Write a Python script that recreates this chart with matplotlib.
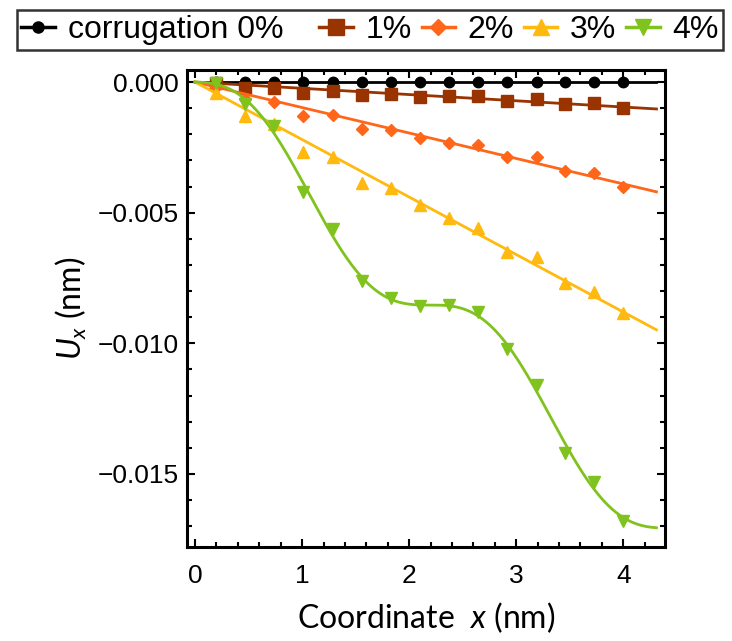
import numpy as np
import matplotlib
matplotlib.use("Agg")
import matplotlib.pyplot as plt

# positions of the sampled points along x (nm)
x_pts = [0.20, 0.47, 0.74, 1.01, 1.29, 1.56, 1.83, 2.10, 2.37, 2.64, 2.91, 3.19, 3.46, 3.73, 4.00]

# U_x (nm) for each corrugation level
u_0 = [0.0] * 15
u_1 = [-0.00002, -0.00022, -0.00022, -0.00040, -0.00034, -0.00051, -0.00047, -0.00057,
       -0.00055, -0.00054, -0.00071, -0.00064, -0.00085, -0.00081, -0.00099]
u_2 = [-0.00020, -0.00066, -0.00075, -0.00128, -0.00126, -0.00181, -0.00184, -0.00213,
       -0.00232, -0.00242, -0.00287, -0.00286, -0.00341, -0.00348, -0.00400]
u_3 = [-0.00041, -0.00130, -0.00162, -0.00267, -0.00286, -0.00385, -0.00407, -0.00472,
       -0.00522, -0.00560, -0.00650, -0.00668, -0.00770, -0.00803, -0.00885]
u_4 = [-0.00002, -0.00085, -0.00168, -0.00421, -0.00564, -0.00761, -0.00828, -0.00857,
       -0.00855, -0.00882, -0.01020, -0.01160, -0.01420, -0.01530, -0.01680]

labels = ["corrugation 0%   ", "1%", "2%", "3%", "4%"]
colors = ["black", "#993300", "#FF661A", "#FFB90F", "#80C21E"]
markers = ["o", "s", "D", "^", "v"]
msizes = [7.5, 8.5, 6, 8, 8]
leg_ms = [8, 11, 8, 11, 11]

plt.rcParams["mathtext.fontset"] = "custom"
plt.rcParams["mathtext.rm"] = "Lato"
plt.rcParams["mathtext.it"] = "Lato:italic"

x = np.array(x_pts)
xf = np.linspace(0, 4.31, 400)


def fit_line(y):
    # straight line through the origin
    y = np.array(y)
    m = np.sum(x * y) / np.sum(x * x)
    return m * xf


def fit_wave(y):
    # slope plus one periodic term, period chosen by least squares
    y = np.array(y)
    best = None
    for L in np.linspace(1.5, 3.0, 301):
        k = 2 * np.pi / L
        A = np.column_stack([x, np.sin(k * x), 1 - np.cos(k * x)])
        c, res, *_ = np.linalg.lstsq(A, y, rcond=None)
        r = np.sum((A @ c - y) ** 2)
        if best is None or r < best[0]:
            best = (r, L, c)
    _, L, c = best
    k = 2 * np.pi / L
    return c[0] * xf + c[1] * np.sin(k * xf) + c[2] * (1 - np.cos(k * xf))


series = [u_0, u_1, u_2, u_3, u_4]
fits = [fit_line(u_0), fit_line(u_1), fit_line(u_2), fit_line(u_3), fit_wave(u_4)]

fig = plt.figure(figsize=(7.32, 6.41), dpi=100)
ax = fig.add_axes([0.2555, 0.1466, 0.653, 0.7441])

handles = []
for y, yf, c, m, ms, lms, lab in zip(series, fits, colors, markers, msizes, leg_ms, labels):
    ax.plot(xf, yf, color=c, lw=2)
    ax.plot(x, y, ls="none", marker=m, ms=ms, color=c, mec=c)
    h, = ax.plot([], [], color=c, lw=2.5, marker=m, ms=lms, label=lab)
    handles.append(h)

ax.set_xlim(-0.075, 4.39)
ax.set_ylim(-0.0178, 0.00046)
ax.set_xticks([0, 1, 2, 3, 4])
ax.set_xticks(np.arange(0, 4.4, 0.2), minor=True)
ax.set_yticks([0, -0.005, -0.010, -0.015])
ax.set_yticks(np.arange(-0.017, 0.0001, 0.001), minor=True)
ax.set_yticklabels(["0.000", "\u22120.005", "\u22120.010", "\u22120.015"])

for s in ax.spines.values():
    s.set_linewidth(2.2)
ax.tick_params(which="both", direction="in", top=True, right=True, width=1.5)
ax.tick_params(which="major", length=6)
ax.tick_params(which="minor", length=3.5)
ax.tick_params(axis="x", which="major", labelsize=19, pad=12)
ax.tick_params(axis="y", which="major", labelsize=19, pad=6)
for t in ax.get_xticklabels() + ax.get_yticklabels():
    t.set_family("Liberation Sans")

ax.set_xlabel("Coordinate  $x$ (nm)", family="Lato", fontsize=23, labelpad=9)
ax.set_ylabel("$U_x$ (nm)", family="Lato", fontsize=23, labelpad=6)

leg = fig.legend(handles=handles, loc="center", bbox_to_anchor=(370 / 732, 1 - 30 / 641),
                 ncol=5, frameon=True, fancybox=False, edgecolor="black",
                 prop={"family": "Liberation Sans", "size": 23},
                 handlelength=1.05, handletextpad=0.4, columnspacing=0.3,
                 borderpad=0.15, borderaxespad=0)
leg.get_frame().set_linewidth(1.8)

fig.savefig("out.png", dpi=100)
